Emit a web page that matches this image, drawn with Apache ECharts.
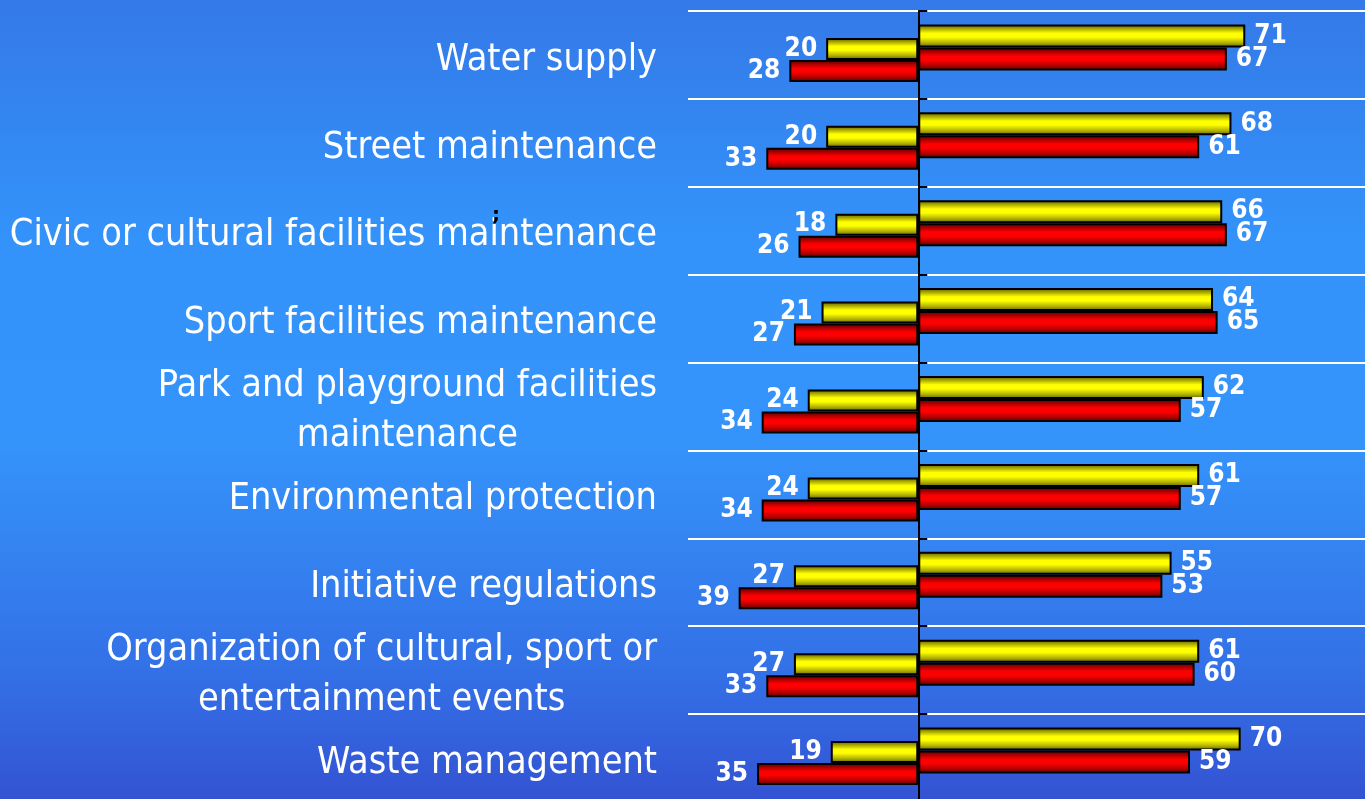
<!DOCTYPE html>
<html>
<head>
<meta charset="utf-8">
<script src="https://cdn.jsdelivr.net/npm/echarts@6/dist/echarts.min.js"></script>
<style>
html,body{margin:0;padding:0;width:1365px;height:799px;overflow:hidden;}
#chart{width:1365px;height:799px;}
</style>
</head>
<body>
<div id="chart"></div>
<script>
const categories = [
  'Water supply',
  'Street maintenance',
  'Civic or cultural facilities maintenance',
  'Sport facilities maintenance',
  'Park and playground facilities\nmaintenance',
  'Environmental protection',
  'Initiative regulations',
  'Organization of cultural, sport or\nentertainment events',
  'Waste management'
];
const yellowRight = [71, 68, 66, 64, 62, 61, 55, 61, 70];
const redRight    = [67, 61, 67, 65, 57, 57, 53, 60, 59];
const yellowLeft  = [20, 20, 18, 21, 24, 24, 27, 27, 19];
const redLeft     = [28, 33, 26, 27, 34, 34, 39, 33, 35];

const FONT = '"DejaVu Sans Condensed", "Liberation Sans Narrow", "DejaVu Sans", sans-serif';

function grad(dark, mid, bright) {
  return new echarts.graphic.LinearGradient(0, 0, 0, 1, [
    {offset: 0, color: dark},
    {offset: 0.2, color: mid},
    {offset: 0.38, color: bright},
    {offset: 0.55, color: bright},
    {offset: 0.8, color: mid},
    {offset: 1, color: dark}
  ]);
}
const yellowFill = grad('#5a5a00', '#b0b000', '#ffff00');
const redFill = grad('#500000', '#b00000', '#ff0000');

const X_MIN = -50, X_MAX = 97;
const hiddenX = (gi) => ({type: 'value', gridIndex: gi, min: X_MIN, max: X_MAX, show: false});
const hiddenY = (gi) => ({type: 'category', gridIndex: gi, data: categories, inverse: true, show: false});
const mkGrid = (top) => ({left: 688, right: 0, top: top, height: 791, outerBoundsMode: 'none', containLabel: false});

const valLabel = (pos) => ({
  show: true,
  position: pos,
  distance: 9,
  color: '#ffffff',
  fontFamily: FONT,
  fontWeight: 'bold',
  fontSize: 26,
  formatter: (p) => Math.abs(p.value)
});

const barStyle = (fill) => ({color: fill, borderColor: '#000', borderWidth: 2});

const option = {
  animation: false,
  backgroundColor: new echarts.graphic.LinearGradient(0, 0, 0, 1, [
    {offset: 0, color: '#3479e8'},
    {offset: 0.3, color: '#3393fa'},
    {offset: 0.55, color: '#3594fb'},
    {offset: 0.85, color: '#336fe6'},
    {offset: 1, color: '#3353d3'}
  ]),
  grid: [mkGrid(11), mkGrid(3.5), mkGrid(16), mkGrid(11)],
  xAxis: [hiddenX(0), hiddenX(1), hiddenX(2), hiddenX(3)],
  yAxis: [
    {
      type: 'category', gridIndex: 0, data: categories, inverse: true,
      axisLine: {show: false, onZero: false},
      axisTick: {show: false},
      splitLine: {show: true, lineStyle: {color: '#ffffff', width: 2}},
      axisLabel: {
        margin: 31,
        padding: [10, 0, 0, 0],
        color: '#ffffff',
        fontFamily: FONT,
        fontSize: 37.5,
        formatter: (v) => v.split('\n').map(s => '{c|' + s + '}').join('\n'),
        rich: {c: {align: 'center', color: '#ffffff', fontFamily: FONT, fontSize: 37.5, lineHeight: 50}}
      }
    },
    hiddenY(1),
    hiddenY(2),
    {
      type: 'value', gridIndex: 3, min: 0, max: 9, interval: 0.5, inverse: true,
      axisLine: {show: true, onZero: true, lineStyle: {color: '#000', width: 2}},
      axisTick: {show: true, inside: true, length: 9, lineStyle: {color: '#000', width: 2}},
      axisLabel: {show: false},
      splitLine: {show: false}
    }
  ],
  series: [
    {type: 'bar', name: 'yellow right', xAxisIndex: 1, yAxisIndex: 1, data: yellowRight,
     barWidth: 23, barGap: '0%', itemStyle: barStyle(yellowFill), label: valLabel('right'), z: 3},
    {type: 'bar', name: 'red right', xAxisIndex: 1, yAxisIndex: 1, data: redRight,
     barWidth: 23, barGap: '0%', itemStyle: barStyle(redFill), label: valLabel('right'), z: 3},
    {type: 'bar', name: 'yellow left', xAxisIndex: 2, yAxisIndex: 2, data: yellowLeft.map(v => -v),
     barWidth: 22, barGap: '0%', itemStyle: barStyle(yellowFill), label: valLabel('left'), z: 2},
    {type: 'bar', name: 'red left', xAxisIndex: 2, yAxisIndex: 2, data: redLeft.map(v => -v),
     barWidth: 22, barGap: '0%', itemStyle: barStyle(redFill), label: valLabel('left'), z: 2}
  ],
  graphic: [
    {type: 'text', left: 492, top: 206, z: 10,
     style: {text: ';', fill: '#000', font: 'bold 20px "DejaVu Sans"'}}
  ]
};

const chart = echarts.init(document.getElementById('chart'), null, {renderer: 'canvas'});
chart.setOption(option);
</script>
</body>
</html>
